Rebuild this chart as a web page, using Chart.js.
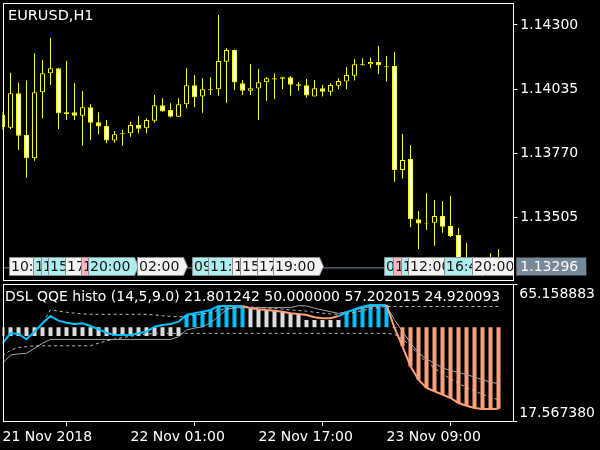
<!DOCTYPE html>
<html>
<head>
<meta charset="utf-8">
<script src="https://cdn.jsdelivr.net/npm/chart.js@4.4.0/dist/chart.umd.min.js"></script>
<style>
  html, body { margin: 0; padding: 0; background: #000; }
  #wrap { position: relative; width: 600px; height: 450px; background: #000; overflow: hidden; }
  #mainBox { position: absolute; left: 0; top: 0; width: 600px; height: 282px; }
  #subBox { position: absolute; left: 0; top: 282px; width: 600px; height: 168px; }
  canvas { display: block; }
</style>
</head>
<body>
<div id="wrap">
  <div id="mainBox"><canvas id="mainChart"></canvas></div>
  <div id="subBox"><canvas id="subChart"></canvas></div>
</div>
<script>
// EURUSD H1 candles, one entry per bar (bar 0 = 21 Nov 2018 09:00)
const opens = [1.13928,1.13875,1.14018,1.13845,1.13749,1.14022,1.14100,1.14121,1.13939,1.13939,
  1.13925,1.13960,1.13898,1.13883,1.13822,1.13852,1.13852,1.13887,1.13873,1.13904,
  1.13968,1.13949,1.13921,1.13972,1.14051,1.14004,1.14034,1.14034,1.14148,1.14197,
  1.14059,1.14028,1.14037,1.14063,1.14080,1.14084,1.14084,1.14055,1.14051,1.14004,
  1.14038,1.14024,1.14049,1.14066,1.14090,1.14138,1.14138,1.14147,1.14129,1.14130,
  1.13701,1.13746,1.13497,1.13483,1.13483,1.13510,1.13469,1.13432,1.13337,1.13320,
  1.13287,1.13304,1.13320];
const highs = [1.13940,1.14103,1.14062,1.14070,1.14183,1.14155,1.14247,1.14123,1.14151,1.14059,
  1.14027,1.13972,1.13939,1.13907,1.13862,1.13866,1.13900,1.13924,1.13914,1.14011,
  1.13997,1.13976,1.13997,1.14121,1.14093,1.14080,1.14084,1.14341,1.14204,1.14199,
  1.14073,1.14139,1.14118,1.14084,1.14100,1.14086,1.14089,1.14064,1.14077,1.14073,
  1.14052,1.14059,1.14080,1.14125,1.14158,1.14162,1.14166,1.14213,1.14172,1.14188,
  1.13849,1.13804,1.13531,1.13604,1.13577,1.13572,1.13593,1.13461,1.13400,1.13337,
  1.13320,1.13357,1.13374];
const lows = [1.13866,1.13870,1.13783,1.13669,1.13739,1.13914,1.14052,1.13870,1.13907,1.13907,
  1.13801,1.13825,1.13848,1.13811,1.13813,1.13801,1.13838,1.13852,1.13852,1.13896,
  1.13942,1.13918,1.13921,1.13956,1.13960,1.13937,1.14011,1.14007,1.13979,1.14031,
  1.14011,1.14011,1.13907,1.13987,1.13994,1.14035,1.14007,1.14028,1.13999,1.14004,
  1.14004,1.14008,1.14034,1.14034,1.14070,1.14132,1.14123,1.14097,1.14066,1.13652,
  1.13665,1.13464,1.13374,1.13453,1.13388,1.13441,1.13424,1.13320,1.13295,1.13267,
  1.13262,1.13279,1.13287];
const closes = [1.13878,1.14018,1.13842,1.13749,1.14022,1.14100,1.14121,1.13935,1.13932,1.13925,
  1.13960,1.13896,1.13880,1.13822,1.13848,1.13848,1.13887,1.13871,1.13907,1.13968,
  1.13942,1.13921,1.13972,1.14051,1.14001,1.14034,1.14030,1.14151,1.14197,1.14062,
  1.14028,1.14038,1.14063,1.14080,1.14075,1.14078,1.14053,1.14049,1.14008,1.14038,
  1.14024,1.14052,1.14068,1.14093,1.14138,1.14134,1.14147,1.14133,1.14125,1.13701,
  1.13742,1.13497,1.13480,1.13479,1.13510,1.13466,1.13428,1.13337,1.13320,1.13287,
  1.13304,1.13320,1.13296];

const priceTicks = [1.14300, 1.14035, 1.13770, 1.13505];
const priceMin = 1.13246;
const priceMax = 1.14392;
const barMax = 63.85;   // chart shift leaves room after the last bar

// bottom time scale
const timeTickBars = [0, 16, 32, 48];
const timeTickLabels = ['21 Nov 2018', '22 Nov 01:00', '22 Nov 17:00', '23 Nov 09:00'];

// time boxes sitting on the bid line (w = white, c = cyan, p = pink)
const boxBars  = [1, 4, 5, 6, 8, 10, 11, 17, 24, 26, 29, 30, 32, 34, 48, 49, 50, 51, 55.4, 59];
const boxTexts = ['10:00','13:00','14:00','15:00','17:00','19:00','20:00','02:00','09:00','11:00',
  '14:00','15:00','17:00','19:00','09:00','10:00','11:00','12:00','16:45','20:00'];
const boxKinds = ['w','c','c','c','w','p','c','w','c','c','w','w','w','w','c','p','c','w','c','w'];

// DSL QQE histo (14,5,9.0) sub window
const qqe = [44.46,47.92,47.68,45.85,48.48,51.38,53.91,52.29,51.59,51.14,
  51.38,50.45,49.31,48.13,47.34,47.34,47.34,47.92,48.48,50.21,
  50.80,51.14,51.94,54.26,54.85,55.40,55.99,57.37,57.37,57.37,
  57.37,56.58,56.23,55.99,55.75,55.40,54.85,54.60,54.26,53.46,
  53.12,53.12,53.91,55.19,56.23,57.13,57.72,57.72,57.72,49.76,
  43.43,36.50,31.86,29.00,27.85,26.67,25.53,23.80,22.87,22.07,
  21.72,21.72,21.801242];
const qqeTrend = [1,1,1,1,1,1,1,1,1,1, 1,1,1,1,1,1,1,1,1,1, 1,1,1,1,1,1,1,1,1,1,
  1,-1,-1,-1,-1,-1,-1,-1,-1,-1, -1,-1,-1,1,1,1,1,1,1,-1,
  -1,-1,-1,-1,-1,-1,-1,-1,-1,-1, -1,-1,-1];
const histVals = [47.0,47.0,47.0,47.0,47.0,47.0,47.0,47.0,47.0,47.0,
  47.0,47.0,47.0,47.0,47.0,47.0,47.0,47.0,47.0,47.0,
  47.0,47.0,47.0,54.26,54.85,55.40,55.99,57.37,57.37,57.37,
  57.37,56.58,56.23,55.99,55.75,55.40,54.85,54.60,52.5,52.5,
  52.5,52.5,52.5,55.19,56.23,57.13,57.72,57.72,57.72,49.76,
  43.43,36.50,31.86,29.00,27.85,26.67,25.53,23.80,22.87,22.07,
  21.72,21.72,21.80];
const histState = [0,0,0,0,0,0,0,0,0,0, 0,0,0,0,0,0,0,0,0,0, 0,0,0,1,1,1,1,1,1,1,
  1,0,0,0,0,0,0,0,0,0, 0,0,0,1,1,1,1,1,1,-1,
  -1,-1,-1,-1,-1,-1,-1,-1,-1,-1, -1,-1,-1];
const levelUp = [44.46,47.92,47.68,45.85,48.48,51.38,56.0,55.6,55.2,54.9,
  54.6,54.5,54.5,54.5,54.5,54.5,54.5,54.5,54.5,54.3,
  54.0,53.8,53.6,53.8,54.2,54.6,55.1,55.9,56.5,56.9,
  57.1,57.0,56.9,56.7,56.5,56.3,56.0,55.8,55.6,55.2,
  54.9,54.6,54.5,54.7,55.2,55.8,56.4,56.9,57.202015,57.202015,
  57.202015,57.202015,57.202015,57.202015,57.202015,57.202015,57.202015,57.202015,57.202015,57.202015,
  57.202015,57.202015,57.202015];
const levelDn = [40.1,42.1,43.0,43.3,43.6,43.6,43.6,43.6,43.6,43.6,
  43.6,43.6,44.5,45.3,45.9,46.4,46.9,47.3,47.6,47.9,
  47.9,47.9,47.9,47.9,47.9,47.9,47.9,47.9,47.9,47.9,
  47.9,47.9,47.9,47.9,47.9,47.9,47.9,47.9,47.9,47.9,
  47.9,47.9,47.9,47.9,47.9,47.9,47.9,47.9,47.9,47.6,
  46.0,43.5,40.6,38.0,35.8,33.9,32.2,30.6,29.2,27.9,
  26.8,25.8,24.920093];
const trailLine = [37.5,40.4,40.8,41.0,42.7,44.5,45.8,45.8,45.8,45.8,
  45.8,45.8,45.8,45.8,45.8,45.8,45.8,45.8,45.8,45.8,
  45.8,45.8,46.7,49.1,49.7,50.2,51.6,53.7,56.2,56.7,
  56.8,56.8,56.8,56.8,56.8,56.8,56.8,57.5,57.4,56.6,
  56.0,55.4,54.8,55.4,56.0,56.6,57.1,57.4,57.3,52.6,
  48.6,44.6,41.1,39.0,37.6,35.9,35.1,34.4,33.6,32.8,
  31.9,31.0,30.5];
const subMin = 17.567380;
const subMax = 65.158883;
const histBase = 50;

const FONT = '"DejaVu Sans", sans-serif';
const bars = opens.map((_, i) => i);
const bid = closes[closes.length - 1];
const boxFill = { w: '#f4f4f4', c: '#afeeee', p: '#ffb6c1' };
const stateColor = { '1': '#00bfff', '0': '#dcdcdc', '-1': '#ffa07a' };

function frame(chart) {
  const { ctx, chartArea: a } = chart;
  ctx.save();
  ctx.strokeStyle = '#ffffff';
  ctx.lineWidth = 1;
  ctx.strokeRect(Math.round(a.left) + 0.5, Math.round(a.top) + 0.5,
    Math.round(a.right) - Math.round(a.left), Math.round(a.bottom) - Math.round(a.top));
  ctx.restore();
}

// keep the plot area exactly where the padding puts it
function noEdgePadding(s) {
  s.paddingTop = 0;
  s.paddingBottom = 0;
  s.paddingLeft = 0;
  s.paddingRight = 0;
}

const mainDecor = {
  id: 'mainDecor',
  beforeDraw(chart) {
    const { ctx, width, height } = chart;
    ctx.save();
    ctx.fillStyle = '#000';
    ctx.fillRect(0, 0, width, height);
    ctx.restore();
  },
  afterDatasetsDraw(chart) {
    // time boxes on the bid line
    const { ctx, chartArea: a, scales: { x, y } } = chart;
    const cy = Math.round(y.getPixelForValue(bid)) - 1.5;
    ctx.save();
    ctx.beginPath();
    ctx.rect(a.left, a.top, a.right - a.left, a.bottom - a.top);
    ctx.clip();
    ctx.font = '14px ' + FONT;
    ctx.textBaseline = 'middle';
    boxBars.forEach((b, k) => {
      const x0 = Math.round(x.getPixelForValue(b)) - 1.5;
      ctx.beginPath();
      ctx.moveTo(x0, cy - 9);
      ctx.lineTo(x0 + 46, cy - 9);
      ctx.lineTo(x0 + 50, cy);
      ctx.lineTo(x0 + 46, cy + 9);
      ctx.lineTo(x0, cy + 9);
      ctx.closePath();
      ctx.fillStyle = boxFill[boxKinds[k]];
      ctx.fill();
      ctx.strokeStyle = '#8c8c8c';
      ctx.lineWidth = 1;
      ctx.stroke();
      ctx.fillStyle = '#141414';
      ctx.fillText(boxTexts[k], x0 + 1.5, cy + 1);
    });
    ctx.restore();
  },
  afterDraw(chart) {
    const { ctx, chartArea: a, scales: { y } } = chart;
    frame(chart);
    ctx.save();
    ctx.fillStyle = '#ffffff';
    ctx.font = '14.5px ' + FONT;
    ctx.textBaseline = 'alphabetic';
    ctx.fillText('EURUSD,H1', 8, 20);
    // bid price tag on the axis
    const cy = Math.round(y.getPixelForValue(bid)) - 1.5;
    ctx.fillStyle = '#778899';
    ctx.fillRect(a.right + 3, cy - 9, 70, 18);
    ctx.fillStyle = '#ffffff';
    ctx.font = '14px ' + FONT;
    ctx.textBaseline = 'middle';
    ctx.fillText(bid.toFixed(5), a.right + 7, cy + 1);
    ctx.restore();
  }
};

const subDecor = {
  id: 'subDecor',
  beforeDraw(chart) {
    const { ctx, width, height } = chart;
    ctx.save();
    ctx.fillStyle = '#000';
    ctx.fillRect(0, 0, width, height);
    ctx.restore();
  },
  afterDraw(chart) {
    const { ctx, chartArea: a } = chart;
    frame(chart);
    const last = qqe.length - 1;
    const head = 'DSL QQE histo (14,5,9.0) ' + qqe[last].toFixed(6) + ' ' + histBase.toFixed(6) + ' ' +
      levelUp[last].toFixed(6) + ' ' + levelDn[last].toFixed(6);
    ctx.save();
    ctx.beginPath();
    ctx.rect(a.left, 0, a.right - a.left, a.bottom);
    ctx.clip();
    ctx.fillStyle = '#ffffff';
    ctx.font = '14px ' + FONT;
    ctx.fillText(head, 5, 19);
    ctx.restore();
    // min / max of the window on the right
    ctx.save();
    ctx.strokeStyle = '#ffffff';
    ctx.beginPath();
    ctx.moveTo(a.right, Math.round(a.top) + 0.5);
    ctx.lineTo(a.right + 4, Math.round(a.top) + 0.5);
    ctx.moveTo(a.right, Math.round(a.bottom) + 0.5);
    ctx.lineTo(a.right + 4, Math.round(a.bottom) + 0.5);
    ctx.stroke();
    ctx.fillStyle = '#ffffff';
    ctx.font = '14px ' + FONT;
    ctx.fillText(subMax.toFixed(6), a.right + 6, a.top + 14.5);
    ctx.fillText(subMin.toFixed(6), a.right + 6, a.bottom - 4);
    ctx.restore();
  }
};

Chart.defaults.animation = false;

new Chart(document.getElementById('mainChart'), {
  type: 'bar',
  data: {
    datasets: [
      {
        type: 'line', label: 'bid',
        data: [{ x: 0, y: bid }, { x: barMax, y: bid }],
        borderColor: '#778899', borderWidth: 1, pointRadius: 0, order: 3
      },
      {
        label: 'wicks',
        data: bars.map(i => ({ x: i, y: [lows[i], highs[i]] })),
        backgroundColor: '#ffff00', borderWidth: 0, inflateAmount: 0,
        barThickness: 1, grouped: false, order: 2
      },
      {
        label: 'bodies',
        data: bars.map(i => ({ x: i, y: [opens[i], closes[i]] })),
        backgroundColor: bars.map(i => closes[i] < opens[i] ? '#ffffff' : '#000000'),
        borderColor: '#ffff00', borderWidth: 1, borderSkipped: false, inflateAmount: 0,
        barThickness: 5, grouped: false, order: 1
      }
    ]
  },
  options: {
    responsive: true,
    maintainAspectRatio: false,
    layout: { padding: { left: 2.5, top: 2.7, right: 0, bottom: 2 } },
    plugins: { legend: { display: false }, tooltip: { enabled: false } },
    events: [],
    scales: {
      x: { type: 'linear', min: 0, max: barMax, offset: false, display: false },
      y: {
        position: 'right', min: priceMin, max: priceMax,
        afterBuildTicks: s => { s.ticks = priceTicks.map(v => ({ value: v })); },
        afterFit: s => { s.width = 86.7; noEdgePadding(s); },
        grid: { drawOnChartArea: false, drawTicks: true, tickLength: 4, color: '#ffffff' },
        border: { display: false },
        ticks: {
          color: '#ffffff', padding: 3,
          font: { family: FONT, size: 14 },
          callback: v => Number(v).toFixed(5)
        }
      }
    }
  },
  plugins: [mainDecor]
});

new Chart(document.getElementById('subChart'), {
  type: 'bar',
  data: {
    datasets: [
      {
        label: 'histo',
        data: bars.map(i => ({ x: i, y: [histBase, histVals[i]] })),
        backgroundColor: bars.map(i => stateColor[histState[i]]),
        borderWidth: 0, inflateAmount: 0, barThickness: 4, grouped: false, order: 5
      },
      {
        type: 'line', label: 'trail',
        data: bars.map(i => ({ x: i, y: trailLine[i] })),
        borderColor: '#a8a8a8', borderWidth: 1, pointRadius: 0, order: 4
      },
      {
        type: 'line', label: 'level up',
        data: bars.map(i => ({ x: i, y: levelUp[i] })),
        borderColor: '#bdbdbd', borderWidth: 1, borderDash: [3, 3], pointRadius: 0, order: 3
      },
      {
        type: 'line', label: 'level down',
        data: bars.map(i => ({ x: i, y: levelDn[i] })),
        borderColor: '#bdbdbd', borderWidth: 1, borderDash: [3, 3], pointRadius: 0, order: 2
      },
      {
        type: 'line', label: 'qqe',
        data: bars.map(i => ({ x: i, y: qqe[i] })),
        borderWidth: 2, pointRadius: 0, order: 1,
        borderColor: '#00bfff',
        segment: { borderColor: c => qqeTrend[c.p1DataIndex] > 0 ? '#00bfff' : '#ffa07a' }
      }
    ]
  },
  options: {
    responsive: true,
    maintainAspectRatio: false,
    layout: { padding: { left: 2.5, top: 1.5, right: 0, bottom: 0 } },
    plugins: { legend: { display: false }, tooltip: { enabled: false } },
    events: [],
    scales: {
      x: {
        type: 'linear', min: 0, max: barMax, offset: false,
        afterBuildTicks: s => { s.ticks = timeTickBars.map(v => ({ value: v })); },
        afterFit: s => { s.height = 29; noEdgePadding(s); },
        grid: { drawOnChartArea: false, drawTicks: true, tickLength: 5, color: '#ffffff' },
        border: { display: false },
        ticks: {
          color: '#ffffff', padding: 3, align: 'start', maxRotation: 0, autoSkip: false,
          font: { family: FONT, size: 14 },
          callback: (v, i) => timeTickLabels[i]
        }
      },
      y: {
        position: 'right', min: subMin, max: subMax,
        afterFit: s => { s.width = 86.7; noEdgePadding(s); },
        grid: { display: false },
        border: { display: false },
        ticks: { display: false }
      }
    }
  },
  plugins: [subDecor]
});
</script>
</body>
</html>
